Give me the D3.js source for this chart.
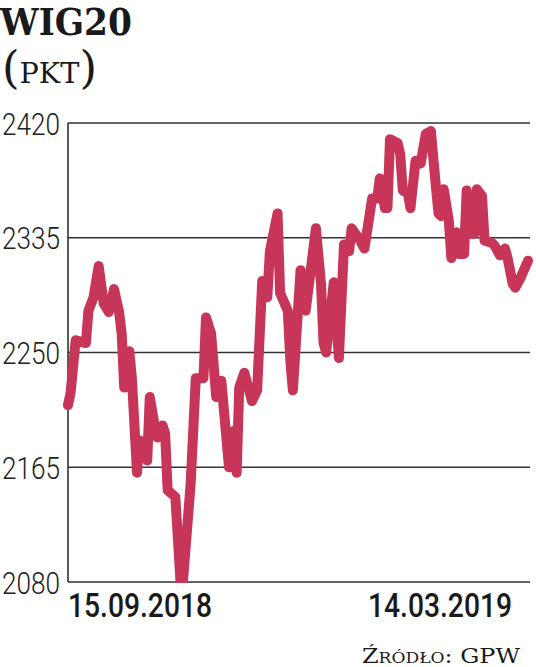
<!DOCTYPE html>
<html>
<head>
<meta charset="utf-8">
<script src="https://cdn.jsdelivr.net/npm/d3@7"></script>
<style>
  html, body { margin: 0; padding: 0; background: #fff; }
  svg { display: block; }
</style>
</head>
<body>
<svg id="chart" width="536" height="667"></svg>
<script>
// ---- data ----
const title = "WIG20";
const unit = "PKT";
const source = "Źródło: GPW";
const startDate = "2018-09-15";
const endDate = "2019-03-14";
const yTicks = [2080, 2165, 2250, 2335, 2420];
// days after start date for each observation
const dayOffsets = [0,1,3,7,8,10,12,14,16,18,20,21,22,24,25,27,28,31,32,34,35,37,38,39,42,44,45,48,50,53,54,56,58,60,63,65,66,67,69,72,74,76,78,79,82,83,86,87,88,91,93,97,99,100,101,104,106,108,110,111,114,116,119,121,122,124,125,126,129,130,131,133,134,136,138,140,142,144,145,146,147,149,150,152,153,155,156,157,159,160,162,163,166,167,169,171,172,174,175,177,180];
const values = [2211,2220,2259,2257,2281,2291,2314,2286,2280,2297,2280,2264,2224,2251,2231,2161,2185,2170,2217,2195,2187,2196,2190,2148,2143,2081,2081,2153,2231,2231,2276,2264,2217,2229,2165,2192,2161,2224,2235,2214,2222,2303,2291,2325,2353,2294,2281,2244,2222,2311,2281,2342,2301,2257,2250,2302,2246,2330,2325,2342,2334,2327,2364,2364,2379,2357,2357,2408,2405,2397,2370,2368,2357,2392,2390,2412,2414,2372,2353,2351,2371,2348,2320,2339,2323,2323,2370,2338,2338,2371,2366,2333,2331,2329,2322,2327,2320,2301,2298,2305,2318];

// ---- chart ----
const svg = d3.select("#chart");
const parse = d3.timeParse("%Y-%m-%d");
const fmt = d3.timeFormat("%d.%m.%Y");
const t0 = parse(startDate), t1 = parse(endDate);
const data = dayOffsets.map((d, i) => ({ date: d3.timeDay.offset(t0, d), value: values[i] }));

const mLeft = 68, gridRight = 530, plotRight = 528, mTop = 123, mBottom = 582;
const x = d3.scaleTime().domain([t0, t1]).range([mLeft, plotRight]);
const y = d3.scaleLinear().domain([2080, 2420]).range([mBottom, mTop]);

// gridlines
svg.append("g").selectAll("line").data(yTicks).join("line")
  .attr("x1", mLeft).attr("x2", gridRight)
  .attr("y1", d => y(d)).attr("y2", d => y(d))
  .attr("stroke", "#333").attr("stroke-width", 1.6);
// vertical axis line
svg.append("line").attr("x1", mLeft).attr("x2", mLeft)
  .attr("y1", y(2420)).attr("y2", y(2080))
  .attr("stroke", "#333").attr("stroke-width", 1.6);

// y labels
svg.append("g").selectAll("text").data(yTicks).join("text")
  .attr("x", 2).attr("y", d => y(d))
  .attr("dy", "0.36em")
  .attr("font-family", "Roboto, 'DejaVu Sans Condensed', sans-serif")
  .attr("font-weight", 300)
  .attr("font-size", 32)
  .attr("textLength", 58).attr("lengthAdjust", "spacingAndGlyphs")
  .attr("fill", "#222")
  .text(d => d);

// clip
svg.append("clipPath").attr("id", "clip").append("rect")
  .attr("x", 0).attr("y", 0).attr("width", 536).attr("height", mBottom + 1);

// line
const line = d3.line().x(d => x(d.date)).y(d => y(d.value));
svg.append("path").datum(data)
  .attr("clip-path", "url(#clip)")
  .attr("d", line)
  .attr("fill", "none")
  .attr("stroke", "#c73659")
  .attr("stroke-width", 10)
  .attr("stroke-linejoin", "round")
  .attr("stroke-linecap", "round");

// x labels
svg.append("text").attr("x", 68).attr("y", 617)
  .attr("font-family", "Roboto, 'DejaVu Sans Condensed', sans-serif")
  .attr("font-weight", 500).attr("font-size", 33)
  .attr("textLength", 144).attr("lengthAdjust", "spacingAndGlyphs")
  .attr("fill", "#1a1a1a").text(fmt(t0));
svg.append("text").attr("x", 368).attr("y", 617)
  .attr("font-family", "Roboto, 'DejaVu Sans Condensed', sans-serif")
  .attr("font-weight", 500).attr("font-size", 33)
  .attr("textLength", 144).attr("lengthAdjust", "spacingAndGlyphs")
  .attr("fill", "#1a1a1a").text(fmt(t1));

// title
svg.append("text").attr("x", 0).attr("y", 35)
  .attr("font-family", "'DejaVu Serif', serif")
  .attr("font-weight", "bold").attr("font-size", 37)
  .attr("textLength", 132).attr("lengthAdjust", "spacingAndGlyphs")
  .attr("fill", "#1a1a1a").text(title);

const sub = svg.append("text").attr("x", 2).attr("y", 83)
  .attr("font-family", "'DejaVu Serif', serif")
  .attr("fill", "#1a1a1a")
  .attr("textLength", 95).attr("lengthAdjust", "spacingAndGlyphs");
sub.append("tspan").attr("font-size", 44).attr("font-weight", 200).text("(");
sub.append("tspan").attr("font-size", 28).text(unit);
sub.append("tspan").attr("font-size", 44).attr("font-weight", 200).text(")");

// source
svg.append("text").attr("x", 362).attr("y", 663)
  .attr("font-family", "'DejaVu Serif', serif")
  .attr("font-size", 21).attr("font-variant", "small-caps")
  .attr("textLength", 158).attr("lengthAdjust", "spacingAndGlyphs")
  .attr("fill", "#1a1a1a").text(source);
</script>
</body>
</html>
